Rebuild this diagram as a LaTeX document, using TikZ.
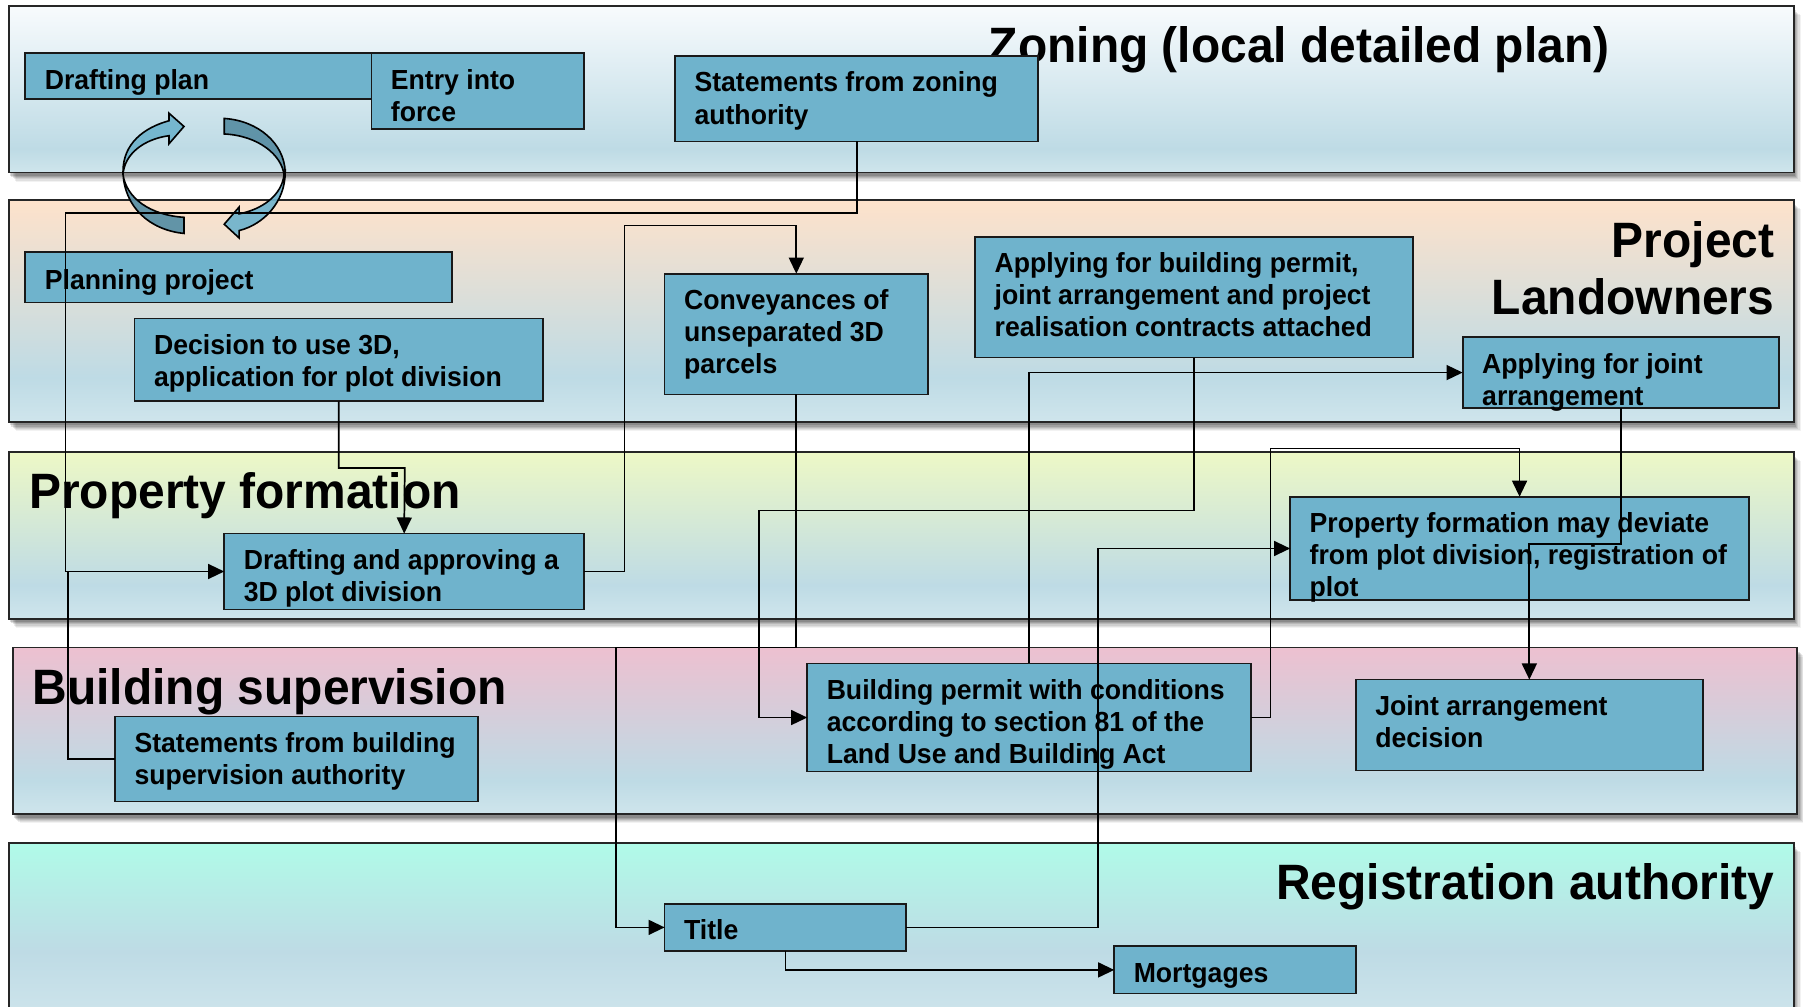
\documentclass[tikz,border=0pt]{standalone}
\usepackage{fontspec}
\setmainfont[FakeStretch=0.965]{Liberation Sans}
\usetikzlibrary{arrows.meta}
\definecolor{bandlow}{HTML}{CFE5EC}
\definecolor{bandmid}{HTML}{BEDBE5}
\definecolor{boxfill}{HTML}{6FB3CC}
\definecolor{cycledark}{HTML}{5B90A5}
\definecolor{ztop}{HTML}{F8FBFD}
\definecolor{ptop}{HTML}{FEE2CB}
\definecolor{ftop}{HTML}{EDF8C6}
\definecolor{btop}{HTML}{EDC0D0}
\definecolor{rtop}{HTML}{B0FBE8}
\pgfdeclareverticalshading{zshade}{100bp}{color(0bp)=(bandlow); color(25bp)=(bandlow); color(32bp)=(bandmid); color(75bp)=(ztop); color(100bp)=(ztop)}
\pgfdeclareverticalshading{pshade}{100bp}{color(0bp)=(bandlow); color(25bp)=(bandlow); color(35bp)=(bandmid); color(75bp)=(ptop); color(100bp)=(ptop)}
\pgfdeclareverticalshading{fshade}{100bp}{color(0bp)=(bandlow); color(25bp)=(bandlow); color(35bp)=(bandmid); color(75bp)=(ftop); color(100bp)=(ftop)}
\pgfdeclareverticalshading{bshade}{100bp}{color(0bp)=(bandlow); color(25bp)=(bandlow); color(35bp)=(bandmid); color(75bp)=(btop); color(100bp)=(btop)}
\pgfdeclareverticalshading{rshade}{100bp}{color(0bp)=(bandlow); color(25bp)=(bandlow); color(45bp)=(bandmid); color(75bp)=(rtop); color(100bp)=(rtop)}
\tikzset{
  bandbox/.style={draw=black!85,line width=1.5pt},
  boxnode/.style={draw=black!90,line width=1.5pt,fill=boxfill,inner sep=0pt,outer sep=0pt,anchor=north west},
  heading/.style={inner sep=0pt,outer sep=0pt,font=\bfseries\fontsize{43.2}{50}\selectfont},
  arr/.style={draw=black,line width=1.5pt,-{Triangle[length=14pt,width=13pt]}},
  plainline/.style={draw=black,line width=1.5pt},
  cyclelight/.style={draw=black,line width=1.4pt,fill=boxfill,fill opacity=.92},
  cycledeep/.style={draw=black,line width=1.4pt,fill=cycledark,fill opacity=.95}
}
% band: x1,y1,x2,y2,shading
\newcommand{\bandrect}[5]{%
  \foreach \o/\a in {8/.05,7/.07,6/.08,5/.10,4/.12,3/.14}{%
    \fill[black,opacity=\a] (#1+\o-2,#2+\o) rectangle (#3+\o-2,#4+\o);}%
  \path[bandbox,shading=#5] (#1,#2) rectangle (#3,#4);}
% box: [first baseline],name,x1,y1,x2,y2,text
\newcommand{\bx}[7][31]{%
  \node[boxnode,minimum width={(#5-#3)*1pt},minimum height={(#6-#4)*1pt}] (#2) at (#3,#4)
   {\parbox[c][\dimexpr #6pt-#4pt\relax][t]{\dimexpr #5pt-#3pt-34pt\relax}{\raggedright\bfseries\fontsize{24}{28}\selectfont\rule{0pt}{#1pt}#7}};}
\begin{document}
\begin{tikzpicture}[x=1pt,y=-1pt]
\useasboundingbox (0,0) rectangle (1568,875.7);
\clip (0,0) rectangle (1568,875.7);
\fill[white] (0,0) rectangle (1568,875.7);
\bandrect{8}{5}{1560}{150}{zshade}
\bandrect{8}{174}{1560}{367}{pshade}
\bandrect{8}{393}{1560}{538}{fshade}
\bandrect{11}{563}{1563}{708}{bshade}
\bandrect{8}{733}{1560}{890}{rshade}

\node[heading,anchor=base west] (hz) at (860,54.5) {Zoning (local detailed plan)};
\node[heading,anchor=base east,align=right] (hp1) at (1543,223.5) {Project};
\node[heading,anchor=base east,align=right] (hp2) at (1543,273.5) {Landowners};
\node[heading,anchor=base west] (hf) at (25.5,442.5) {Property formation};
\node[heading,anchor=base west] (hb) at (28.5,612.5) {Building supervision};
\node[heading,anchor=base east] (hr) at (1543,782.5) {Registration authority};

% cycle arrows
\draw[cyclelight] (107,149) .. controls (107,125) and (125,111) .. (147,105) -- (147,98.5) -- (160,110) -- (147,125) -- (147,118) .. controls (125,121) and (108,134) .. (107,152) -- cycle;
\draw[cycledeep] (107,150) .. controls (108,180) and (130,200) .. (160,203) -- (160,189) .. controls (130,187) and (110,172) .. (107,152) -- cycle;
\draw[cycledeep] (195,103) .. controls (225,105) and (247,125) .. (248,149) -- (247,152) .. controls (245,135) and (225,118) .. (195,116.5) -- cycle;
\draw[cyclelight] (248,150) .. controls (248,175) and (230,195) .. (208,200.5) -- (208,207) -- (195,195) -- (208,180) -- (208,186) .. controls (228,182) and (245,170) .. (247,152) -- cycle;

\bx[32]{dplan}{22}{46}{340}{86}{Drafting plan}
\bx[32]{entry}{323}{46}{508}{112}{Entry into\\force}
\bx[31]{szon}{587}{49}{903}{123}{Statements from zoning\\authority}
\bx[33]{plan}{22}{219}{393}{263}{Planning project}
\bx{dec}{117}{277}{472}{349}{Decision to use 3D,\\application for plot division}
\bx{conv}{578}{238}{807}{343}{Conveyances of\\unseparated 3D\\parcels}
\bx{appb}{848}{206}{1229}{311}{Applying for building permit,\\joint arrangement and project\\realisation contracts attached}
\bx[32]{appj}{1272}{293}{1547}{355}{Applying for joint\\arrangement}
\bx{dap}{195}{464}{508}{530}{Drafting and approving a\\3D plot division}
\bx{prop}{1122}{432}{1521}{522}{Property formation may deviate\\from plot division, registration of\\plot}
\bx{perm}{702}{577}{1088}{671}{Building permit with conditions\\according to section 81 of the\\Land Use and Building Act}
\bx{jdec}{1179}{591}{1481}{670}{Joint arrangement\\decision}
\bx{bsup}{100}{623}{416}{697}{Statements from building\\supervision authority}
\bx{title}{578}{786}{788}{827}{Title}
\bx{mort}{969}{823}{1179}{864}{Mortgages}

\coordinate (junc) at (59,497);
\draw[arr] (szon.south) |- (57,185) |- (dap.west);
\draw[arr] (dec.south) |- (352,407) -- (dap.north);
\draw[arr] (dap.east) -| (543,196) -| (conv.north);
\draw[plainline] (bsup.west) -| (junc);
\draw[arr] (conv.south) |- (536,563) |- (title.west);
\draw[arr] (appb.south) |- (660,444) |- (perm.west);
\draw[arr] (perm.north) |- (appj.west);
\draw[arr] (perm.east) -| (1105,390) -| (prop.north);
\draw[arr] (appj.south) |- (1330,473) -- (jdec.north);
\draw[arr] (title.east) -| (955,477) -- (prop.west);
\draw[arr] (title.south) |- (mort.west);
\end{tikzpicture}
\end{document}
